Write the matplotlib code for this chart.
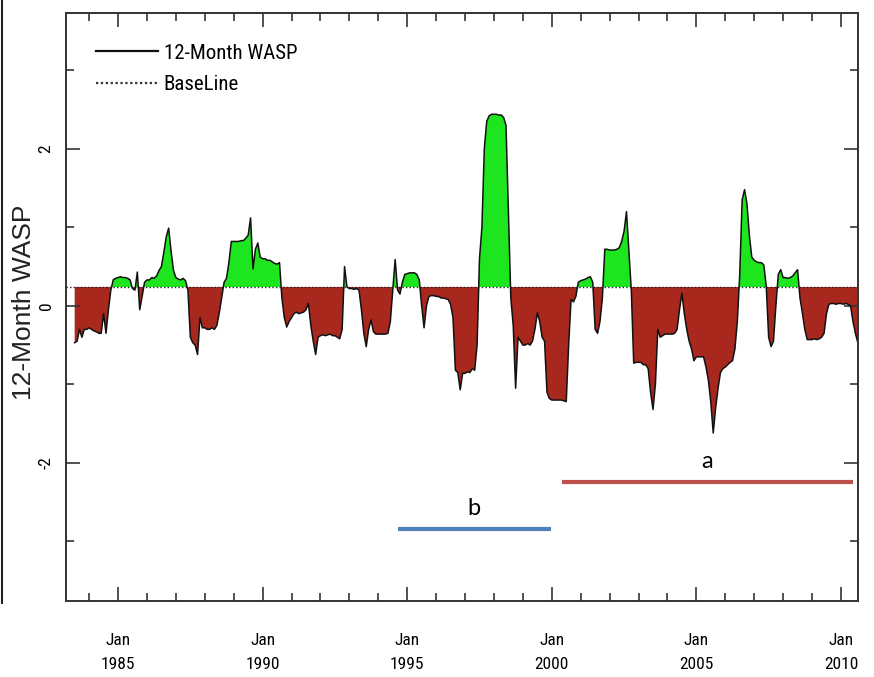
import numpy as np
import matplotlib
matplotlib.use("Agg")
import matplotlib.pyplot as plt
from matplotlib.lines import Line2D
from matplotlib.ticker import FixedLocator, NullFormatter

# Monthly 12-month WASP index, first value = July 1983
series_start_year = 1983
series_start_month = 7
wasp_values = [
    # 1983 (Jul-Dec)
    -0.47, -0.45, -0.30, -0.40, -0.30, -0.30,
    # 1984
    -0.28, -0.30, -0.32, -0.33, -0.35, -0.35, -0.10, -0.35, -0.05, 0.20, 0.33, 0.35,
    # 1985
    0.36, 0.37, 0.36, 0.36, 0.35, 0.33, 0.22, 0.20, 0.43, -0.05, 0.12, 0.30,
    # 1986
    0.33, 0.33, 0.36, 0.35, 0.38, 0.45, 0.50, 0.68, 0.88, 0.99, 0.70, 0.45,
    # 1987
    0.36, 0.34, 0.33, 0.35, 0.32, 0.20, -0.40, -0.47, -0.50, -0.62, -0.15, -0.28,
    # 1988
    -0.28, -0.30, -0.30, -0.28, -0.30, -0.25, -0.09, 0.10, 0.30, 0.35, 0.55, 0.82,
    # 1989
    0.82, 0.82, 0.82, 0.83, 0.83, 0.86, 0.90, 1.12, 0.47, 0.72, 0.80, 0.62,
    # 1990
    0.60, 0.60, 0.58, 0.58, 0.56, 0.54, 0.53, 0.55, 0.10, -0.15, -0.27, -0.20,
    # 1991
    -0.15, -0.10, -0.08, -0.10, -0.09, -0.08, -0.05, 0.03, -0.25, -0.45, -0.62, -0.40,
    # 1992
    -0.38, -0.37, -0.38, -0.37, -0.36, -0.38, -0.38, -0.40, -0.42, -0.30, 0.50, 0.24,
    # 1993
    0.22, 0.22, 0.21, 0.22, 0.20, -0.05, -0.35, -0.52, -0.30, -0.18, -0.33, -0.36,
    # 1994
    -0.36, -0.36, -0.36, -0.36, -0.35, -0.20, 0.20, 0.59, 0.20, 0.15, 0.30, 0.40,
    # 1995
    0.41, 0.42, 0.42, 0.42, 0.40, 0.33, 0.00, -0.28, 0.00, 0.12, 0.13, 0.13,
    # 1996
    0.12, 0.12, 0.10, 0.10, 0.09, 0.08, 0.02, -0.15, -0.82, -0.85, -1.07, -0.86,
    # 1997
    -0.86, -0.84, -0.85, -0.80, -0.82, -0.50, 0.60, 1.00, 2.00, 2.35, 2.42, 2.44,
    # 1998
    2.44, 2.44, 2.43, 2.43, 2.40, 2.30, 1.20, 0.10, -0.25, -1.05, -0.40, -0.45,
    # 1999
    -0.50, -0.50, -0.48, -0.50, -0.45, -0.30, -0.09, -0.20, -0.40, -0.45, -1.10, -1.18,
    # 2000
    -1.20, -1.20, -1.20, -1.20, -1.20, -1.21, -1.22, -0.50, 0.08, 0.05, 0.12, 0.30,
    # 2001
    0.32, 0.33, 0.34, 0.36, 0.37, 0.30, -0.30, -0.35, -0.20, 0.10, 0.72, 0.72,
    # 2002
    0.71, 0.71, 0.71, 0.72, 0.74, 0.82, 0.95, 1.20, 0.70, 0.20, -0.73, -0.72,
    # 2003
    -0.72, -0.72, -0.75, -0.75, -0.80, -1.10, -1.32, -1.00, -0.30, -0.40, -0.38, -0.36,
    # 2004
    -0.36, -0.36, -0.36, -0.35, -0.30, -0.05, 0.16, -0.10, -0.30, -0.45, -0.55, -0.70,
    # 2005
    -0.65, -0.65, -0.65, -0.65, -0.78, -0.95, -1.23, -1.62, -1.30, -1.05, -0.85, -0.80,
    # 2006
    -0.78, -0.75, -0.72, -0.70, -0.55, -0.20, 0.40, 1.35, 1.48, 1.30, 0.90, 0.62,
    # 2007
    0.58, 0.56, 0.55, 0.55, 0.52, 0.25, -0.40, -0.52, -0.45, 0.00, 0.40, 0.46,
    # 2008
    0.36, 0.36, 0.35, 0.36, 0.38, 0.42, 0.46, 0.10, -0.09, -0.30, -0.43, -0.43,
    # 2009
    -0.43, -0.42, -0.43, -0.42, -0.40, -0.35, -0.10, 0.02, 0.03, 0.03, 0.02, 0.03,
    # 2010 (Jan-Aug)
    0.03, 0.02, 0.03, 0.02, 0.00, -0.20, -0.35, -0.47,
]
baseline_value = 0.24

tick_years = [1985, 1990, 1995, 2000, 2005, 2010]
tick_labels = [f"Jan\n{y}" for y in tick_years]
y_major = [-2, 0, 2]
y_minor = [-3, -1, 1, 3]

# Period markers (start year, end year, level, label)
period_a = (2000.35, 2010.41, -2.24, "a")
period_b = (1994.68, 1999.97, -2.84, "b")

values = np.array(wasp_values)
t = series_start_year + (series_start_month - 1) / 12 + np.arange(len(values)) / 12

narrow = ["Roboto Condensed", "Liberation Sans Narrow", "Liberation Sans", "DejaVu Sans"]

fig = plt.figure(figsize=(8.74, 6.77), dpi=100)
ax = fig.add_axes([66 / 874, 1 - 601 / 677, (858 - 66) / 874, (601 - 13) / 677])

ax.fill_between(t, values, baseline_value, where=values >= baseline_value,
                interpolate=True, color="#1ee61e", linewidth=0)
ax.fill_between(t, values, baseline_value, where=values <= baseline_value,
                interpolate=True, color="#a8281e", linewidth=0)
ax.axhline(baseline_value, color="#222222", linestyle=(0, (1, 1.6)), linewidth=1.0)
ax.plot(t, values, color="#111111", linewidth=1.1)

for x0, x1, lvl, lab, col in [(*period_a, "#c0504d"), (*period_b, "#4f81bd")]:
    ax.plot([x0, x1], [lvl, lvl], color=col, linewidth=3, solid_capstyle="butt")
    ax.text((x0 + x1) / 2, lvl + 0.12, lab, ha="center", va="bottom",
            fontsize=17, family=["Lato", "DejaVu Sans"])

ax.set_xlim(1983.20, 2010.59)
ax.set_ylim(-3.76, 3.73)

ax.xaxis.set_major_locator(FixedLocator(tick_years))
ax.xaxis.set_minor_locator(FixedLocator(list(range(1984, 2011))))
ax.set_xticklabels(tick_labels, family=narrow, fontsize=12.5, linespacing=1.75)
ax.xaxis.set_minor_formatter(NullFormatter())
ax.yaxis.set_major_locator(FixedLocator(y_major))
ax.yaxis.set_minor_locator(FixedLocator(y_minor))
ax.set_yticklabels([str(v) for v in y_major], family=narrow, fontsize=12.5,
                   rotation=90, va="center")

ax.tick_params(which="both", direction="in", top=True, right=True, width=1.2,
               color="#333333")
ax.tick_params(which="major", length=10)
ax.tick_params(which="minor", length=6)
ax.tick_params(axis="x", which="major", pad=23)
ax.tick_params(axis="y", which="major", pad=9)
for s in ax.spines.values():
    s.set_linewidth(1.4)
    s.set_color("#333333")

handles = [Line2D([], [], color="#111111", linewidth=1.6),
           Line2D([], [], color="#333333", linewidth=1.6, linestyle=(0, (1, 1.2)))]
ax.legend(handles, ["12-Month WASP", "BaseLine"], loc="upper left",
          bbox_to_anchor=(0.014, 0.98), frameon=False, handlelength=3.0,
          handletextpad=0.25, labelspacing=0.6,
          prop={"family": narrow, "size": 15})

fig.text(24 / 874, 1 - 302 / 677, "12-Month WASP", rotation=90, ha="center",
         va="center", fontsize=19, family=["Liberation Sans", "DejaVu Sans"],
         color="#222222")
fig.add_artist(Line2D([0.002, 0.002], [1.0, 1 - 603 / 677], color="#222222",
                      linewidth=1.5))

fig.savefig("out.png", dpi=100)
